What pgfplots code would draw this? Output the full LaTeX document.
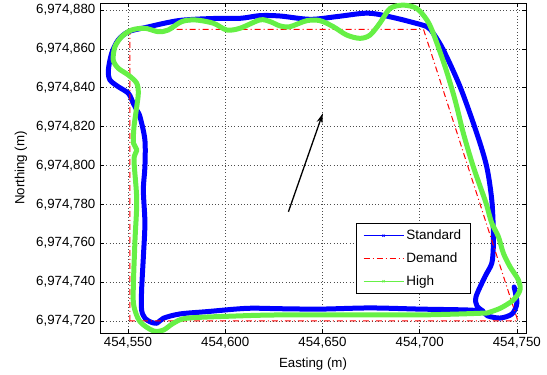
\documentclass[border=0pt]{standalone}
\usepackage{fontspec}
\setmainfont{Liberation Sans}
\usepackage{pgfplots}
\pgfplotsset{compat=1.18}
\usetikzlibrary{arrows.meta}
\definecolor{hgreen}{RGB}{102,240,70}
\begin{document}
\fontsize{13.3}{16}\selectfont
\begin{tikzpicture}
\useasboundingbox (-100pt,-42pt) rectangle (447pt,333pt);
\begin{axis}[
  at={(0pt,0pt)}, anchor=south west,
  scale only axis, width=426pt, height=330pt,
  xmin=35.6, xmax=254.7, ymin=13.7, ymax=183.6,
  xtick={50,100,150,200,250},
  xticklabels={{454,550},{454,600},{454,650},{454,700},{454,750}},
  ytick={20,40,60,80,100,120,140,160,180},
  yticklabels={{6,974,720},{6,974,740},{6,974,760},{6,974,780},{6,974,800},{6,974,820},{6,974,840},{6,974,860},{6,974,880}},
  tick align=inside, major tick length=4pt,
  tick style={black, line width=0.5pt},
  axis line style={black, line width=0.9pt},
  grid=major,
  major grid style={black!70, line width=0.5pt, dash pattern=on 0.6pt off 2.6pt},
  xlabel={Easting (m)}, ylabel={Northing (m)},
  every tick label/.append style={font=\fontsize{13.3}{16}\selectfont},
  label style={font=\fontsize{13.3}{16}\selectfont},
  legend style={at={(0.870,0.118)}, anchor=south east, draw=black, line width=0.8pt,
    font=\fontsize{13.5}{16}\selectfont, inner xsep=6.5pt, inner ysep=4.5pt, row sep=7pt,
    nodes={inner xsep=2.5pt}},
  legend cell align=left,
  legend image code/.code={\draw[mark repeat=2,mark phase=2,#1] plot coordinates {(0pt,0pt) (20pt,0pt) (40pt,0pt)};},
  legend entries={Standard,Demand,High},
]
\addlegendimage{blue, line width=0.7pt, mark=x, mark size=1.5pt}
\addlegendimage{red, line width=0.8pt, dash pattern=on 6pt off 3pt on 1pt off 3pt}
\addlegendimage{hgreen, line width=0.7pt, mark=x, mark size=1.5pt}
% Standard
\addplot[blue, line width=5pt, smooth, tension=0.5, line join=round, line cap=round, forget plot] coordinates {
(248.6,37.4) (250.0,29.1) (247.5,23.5) (241.4,21.4) (235,22.5) (232.6,24.5) (225.9,25.5)
(200.2,26.0) (174.5,26.6) (148.8,26.0) (128.2,26.2) (111.2,26.4) (90.6,24.7) (76.7,23.5)
(68.2,21.3) (64.8,18.7) (61.3,19.5) (58.7,21.4) (57.0,25.5) (57.0,35.8) (57.9,52.8)
(58.7,70.3) (57.9,87.3) (58.7,99.2) (58.7,113.1) (56.2,124.9) (54.5,128.5) (52.7,132.0)
(50.2,137.1) (45.0,140.5) (40.7,144.0) (39.9,149.1) (41.6,157.7) (45.0,164.6) (50.2,168.8)
(58.7,170.9) (75.7,174.5) (93.1,175.6) (107.6,175.7) (117.9,177.1) (128.2,176.9) (143.6,175.2)
(157.4,176.6) (171.0,178.3) (177.9,177.9) (188.2,175.7) (196.8,173.5) (203.7,171.4) (207.0,168.0)
(212.2,159.4) (220.8,140.5) (229.4,116.5) (234.5,99.3) (237.1,82.2) (237.9,66.7) (237.9,58.1)
(237.1,49.6) (233.6,42.7) (229.0,32.4) (229.5,27.6) (232.6,25.0)
};
% Demand
\addplot[red, line width=1pt, dash pattern=on 6pt off 3pt on 1pt off 3pt, forget plot] coordinates {
(51,20) (51,170) (202,170) (250.5,20) (51,20)
};
% High
\addplot[hgreen, line width=5pt, smooth, tension=0.5, line join=round, line cap=round, forget plot] coordinates {
(234.7,24.0) (241.4,26.4) (248.2,30.7) (251.6,35.8) (250.8,41.0) (246.5,47.8) (243.1,54.7)
(240.5,63.3) (237.1,70.3) (234.7,78.7) (233.6,82.2) (227.6,99.3) (222.5,116.5) (218.2,133.7)
(213.1,150.8) (207.0,168.0) (203.7,174.9) (198.5,180.8) (191.6,182.5) (184.8,180.8) (179.6,173.3)
(174.5,167.1) (169.3,165.4) (162.5,167.1) (155.6,171.4) (148.8,174.5) (141.9,174.5) (133.3,171.4)
(128.2,171.8) (123.1,174.0) (117.9,174.9) (107.6,170.6) (100.8,169.7) (93.9,173.2) (84.5,174.9)
(77.6,174.0) (70.7,169.7) (65.6,168.8) (58.7,170.6) (51.9,169.7) (46.8,166.3) (43.3,161.1)
(42.4,154.3) (45.0,150.0) (50.2,146.5) (54.5,142.3) (55.3,137.1) (54.5,130.2) (53.1,119.9)
(52.8,111.5) (54.6,107.9) (53.1,102.8) (54.5,82.2) (53.6,61.6) (52.7,35.8) (53.1,27.2)
(56.2,19.5) (63.0,14.8) (68.2,15.2) (73.3,18.7) (80.2,21.3) (104.0,22.4) (128.2,23.0)
(174.5,23.0) (200.2,23.0) (220.8,23.5) (234.7,24.0)
};
% arrow
\addplot[black, line width=1.3pt, -{Stealth[length=10pt,width=6pt]}, forget plot] coordinates {
(132.5,76.1) (150.2,126.8)
};
\end{axis}
\end{tikzpicture}
\end{document}
